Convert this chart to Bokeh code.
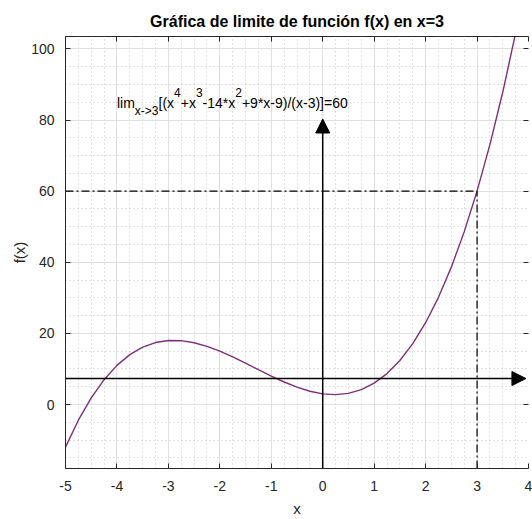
from bokeh.plotting import figure
from bokeh.models import (ColumnDataSource, Arrow, NormalHead, LinearAxis,
                          SingleIntervalTicker, Range1d, PrintfTickFormatter,
                          CustomJSTickFormatter)
from bokeh.core.properties import value
from bokeh.embed import file_html
from bokeh.resources import INLINE

# ---------------- data ----------------
x_vals = [-5.0, -4.75, -4.5, -4.25, -4.0, -3.75, -3.5, -3.25, -3.0, -2.75, -2.5,
          -2.25, -2.0, -1.75, -1.5, -1.25, -1.0, -0.75, -0.5, -0.25, 0.0, 0.25,
          0.5, 0.75, 1.0, 1.25, 1.5, 1.75, 2.0, 2.25, 2.5, 2.75, 3.0, 3.25, 3.5,
          3.75, 4.0]
f_vals = [-12.0, -4.42, 1.88, 6.98, 11.0, 14.02, 16.13, 17.42, 18.0, 17.95, 17.38,
          16.36, 15.0, 13.39, 11.63, 9.80, 8.0, 6.33, 4.88, 3.73, 3.0, 2.77,
          3.13, 4.17, 6.0, 8.70, 12.38, 17.11, 23.0, 30.14, 38.63, 48.55, 60.0,
          73.08, 87.88, 104.48, 123.0]
limit_x = 3
limit_y = 60
x_lim = (-5, 4)
y_lim = (-18, 103.5)
h_arrow_y = 7.3
h_arrow_x = (-5, 3.95)
v_arrow_x = 0
v_arrow_top = 80.3

title_text = "Gráfica de limite de función f(x) en x=3"
x_label = "x"
y_label = "f(x)"
note_x, note_y = -4.0, 84.7
note_pieces = ["lim", "x->3", "[(x", "4", "+x", "3", "-14*x", "2", "+9*x-9)/(x-3)]=60"]
note_kinds = ["n", "sub", "n", "sup", "n", "sup", "n", "sup", "n"]

# ---------------- styling ----------------
FONT = "Liberation Sans"
DARK = "#262626"
CURVE = "#7E2F7A"
ARIAL = {'l': 222, 'i': 222, 'm': 833, 'x': 500, '-': 333, '>': 584, '3': 556,
         '[': 278, '(': 333, '4': 556, '+': 584, '1': 556, '*': 389, '2': 556,
         '9': 556, ')': 333, '/': 278, ']': 278, '=': 584, '6': 556, '0': 556}
MAIN_SZ, SCRIPT_SZ = 14, 12
SUB_DY, SUP_DY = 8, -11

p = figure(width=532, height=519, x_range=Range1d(*x_lim), y_range=Range1d(*y_lim),
           output_backend="svg", toolbar_location=None,
           min_border_left=65, min_border_right=0, min_border_top=36,
           min_border_bottom=51, title=title_text,
           x_axis_label=x_label, y_axis_label=y_label)
p.background_fill_color = "white"
p.border_fill_color = "white"
p.outline_line_color = None

p.title.align = "center"
p.title.text_font = FONT
p.title.text_font_size = "16px"
p.title.text_font_style = "bold"
p.title.text_color = "black"
p.title.standoff = 6

xt = SingleIntervalTicker(interval=1, num_minor_ticks=4)
yt = SingleIntervalTicker(interval=20, num_minor_ticks=4)
p.xaxis.ticker = xt
p.yaxis.ticker = yt
p.xaxis.formatter = PrintfTickFormatter(format="%d")
p.yaxis.formatter = PrintfTickFormatter(format="%d")

for ax in (p.xaxis[0], p.yaxis[0]):
    ax.major_tick_in = 5
    ax.major_tick_out = 0
    ax.minor_tick_line_color = None
    ax.axis_line_color = DARK
    ax.major_tick_line_color = DARK
    ax.major_label_text_font = FONT
    ax.major_label_text_font_size = "14px"
    ax.major_label_text_color = DARK
    ax.axis_label_text_font = FONT
    ax.axis_label_text_font_size = "15px"
    ax.axis_label_text_font_style = "normal"
    ax.axis_label_text_color = DARK
p.xaxis.major_label_standoff = 8
p.xaxis.axis_label_standoff = 6
p.yaxis.major_label_standoff = 7
p.yaxis.axis_label_standoff = 0

blank = CustomJSTickFormatter(code="return '';")
top_ax = LinearAxis(ticker=xt, formatter=blank, major_tick_in=5, major_tick_out=0,
                    minor_tick_line_color=None, axis_line_color=DARK,
                    major_tick_line_color=DARK, major_label_standoff=0)
right_ax = LinearAxis(ticker=yt, formatter=blank, major_tick_in=5, major_tick_out=0,
                      minor_tick_line_color=None, axis_line_color=None,
                      major_tick_line_color=DARK, major_label_standoff=0)
p.add_layout(top_ax, "above")
p.add_layout(right_ax, "right")

for g in p.grid:
    g.grid_line_color = "#e0e0e0"
    g.grid_line_width = 1
    g.minor_grid_line_color = "#c4c4c4"
    g.minor_grid_line_dash = "1 3"
    g.minor_grid_line_width = 1
p.xgrid.ticker = xt
p.ygrid.ticker = yt

# curve
p.line(x_vals, f_vals, line_color=CURVE, line_width=1.4)

# dash-dot guide lines at the limit
p.line([x_lim[0], limit_x], [limit_y, limit_y], line_color="black", line_width=1.2,
       line_dash="8 3 2 3")
p.line([limit_x, limit_x], [y_lim[0], limit_y], line_color="black", line_width=1.2,
       line_dash="8 3 2 3")

# arrows
p.add_layout(Arrow(end=NormalHead(size=14, fill_color="black", line_color="black"),
                   x_start=h_arrow_x[0], y_start=h_arrow_y, x_end=h_arrow_x[1],
                   y_end=h_arrow_y, line_color="black", line_width=1.5))
p.add_layout(Arrow(end=NormalHead(size=14, fill_color="black", line_color="black"),
                   x_start=v_arrow_x, y_start=y_lim[0], x_end=v_arrow_x,
                   y_end=v_arrow_top, line_color="black", line_width=1.5))

# annotation text with sub/superscripts
offs, dys, sizes = [], [], []
cur = 0.0
for txt, kind in zip(note_pieces, note_kinds):
    sz = MAIN_SZ if kind == "n" else SCRIPT_SZ
    offs.append(cur)
    dys.append(0 if kind == "n" else (SUB_DY if kind == "sub" else SUP_DY))
    sizes.append(f"{sz}px")
    cur += sum(ARIAL.get(c, 556) for c in txt) * sz / 1000.0
src = ColumnDataSource(dict(x=[note_x] * len(note_pieces), y=[note_y] * len(note_pieces),
                            text=note_pieces, xo=offs, yo=dys, sz=sizes))
p.text(x="x", y="y", text="text", x_offset="xo", y_offset="yo", source=src,
       text_font=value(FONT), text_font_size="sz", text_color="black",
       text_baseline="alphabetic", text_align="left")

open("out.html", "w").write(file_html(p, INLINE))
